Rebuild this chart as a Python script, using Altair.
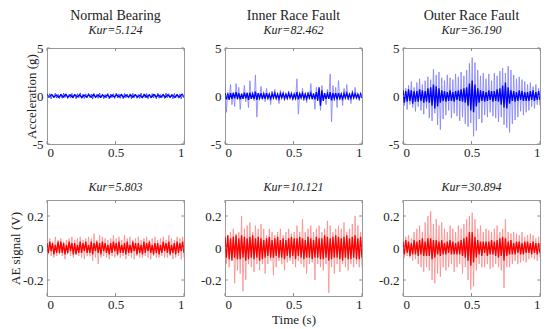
import altair as alt
import numpy as np
import pandas as pd

x_ticks = [0, 0.5, 1]
acc_ticks = [-5, 0, 5]
ae_ticks = [-0.2, 0, 0.2]
top_titles = ["Normal Bearing", "Inner Race Fault", "Outer Race Fault"]
kur_acc = ["Kur=5.124", "Kur=82.462", "Kur=36.190"]
kur_ae = ["Kur=5.803", "Kur=10.121", "Kur=30.894"]

# ---- vibration (acceleration, g) ----
nb_acc_light = [0.22,-0.18,0.25,-0.3,0.15,-0.2,0.28,-0.22,0.18,-0.26,
                0.2,-0.24,0.3,-0.16,0.22,-0.28,0.18,-0.2,0.26,-0.22,
                0.16,-0.3,0.24,-0.18,0.32,-0.24,0.2,-0.26,0.22,-0.2,
                0.28,-0.16,0.2,-0.32,0.26,-0.22,0.18,-0.24,0.3,-0.2,
                0.22,-0.28,0.16,-0.22,0.26,-0.3,0.2,-0.18,0.24,-0.26,
                0.3,-0.2,0.22,-0.24,0.18,-0.28,0.26,-0.2,0.2,-0.22,
                0.24,-0.3,0.28,-0.18,0.2,-0.24,0.16,-0.26,0.3,-0.22,
                0.22,-0.2,0.26,-0.28,0.18,-0.22,0.24,-0.2,0.2,-0.3,
                0.28,-0.24,0.16,-0.2,0.22,-0.26,0.3,-0.18,0.24,-0.22,
                0.2,-0.28,0.26,-0.2,0.18,-0.24,0.22,-0.3,0.24,-0.2]
nb_acc_core = [0.12,-0.1,0.14,-0.12,0.1,-0.14,0.13,-0.11,0.15,-0.12,
               0.11,-0.13,0.14,-0.1,0.12,-0.15,0.1,-0.12,0.13,-0.14,
               0.15,-0.11,0.12,-0.13,0.1,-0.12,0.14,-0.15,0.11,-0.1,
               0.13,-0.12,0.15,-0.14,0.12,-0.1,0.11,-0.13,0.14,-0.12,
               0.1,-0.15,0.13,-0.11,0.12,-0.14,0.15,-0.1,0.11,-0.12,
               0.14,-0.13,0.12,-0.11,0.1,-0.14,0.13,-0.12,0.15,-0.1]
ir_acc_light = [1.5,-1.7,0.4,-0.3,1.2,-0.9,0.3,-1.1,1.3,-0.4,
                0.9,-1.4,0.2,-0.3,1.1,-0.6,0.4,-1.2,1.6,-0.3,
                0.2,-0.5,2.2,-2.2,0.3,-0.2,1.0,-0.4,0.3,-0.6,
                0.8,-0.3,0.2,-0.9,0.5,-0.2,0.7,-0.3,0.2,-0.8,
                0.6,-0.2,0.3,-0.5,0.2,-0.3,0.5,-0.2,0.3,-0.4,
                0.2,-0.3,1.8,-1.9,0.3,-0.2,0.8,-0.5,0.3,-0.7,
                0.4,-0.3,1.3,-0.4,0.3,-1.4,0.9,-0.3,0.5,-1.5,
                1.1,-0.4,0.3,-0.9,0.7,-0.3,2.3,-2.7,1.1,-0.5,
                0.9,-1.2,1.6,-0.4,0.3,-1.0,0.8,-0.3,1.2,-0.4,
                0.3,-0.8,0.6,-0.2,0.9,-0.3,0.2,-0.5,0.4,-0.2]
ir_acc_core = [0.3,-0.35,0.25,-0.4,0.3,-0.3,0.35,-0.25,0.4,-0.3,
               0.3,-0.35,0.25,-0.3,0.35,-0.25,0.3,-0.4,0.35,-0.3,
               0.25,-0.3,0.45,-0.4,0.3,-0.25,0.3,-0.3,0.25,-0.3,
               0.3,-0.25,0.2,-0.3,0.25,-0.2,0.3,-0.25,0.2,-0.3,
               0.25,-0.2,0.3,-0.25,0.2,-0.25,0.3,-0.2,0.25,-0.3,
               0.2,-0.25,0.4,-0.35,0.25,-0.2,0.3,-0.25,0.2,-0.3,
               0.25,-0.2,0.3,-0.3,0.25,-0.35,0.4,-0.5,0.9,-1.0,
               0.6,-0.5,0.3,-0.3,0.25,-0.3,0.4,-0.45,0.3,-0.25,
               0.3,-0.35,0.3,-0.25,0.2,-0.3,0.25,-0.2,0.3,-0.25,
               0.2,-0.25,0.3,-0.2,0.25,-0.2,0.2,-0.25,0.2,-0.2]
or_acc_light = [1.3,-1.0,0.8,-1.4,1.1,-0.9,1.5,-1.2,0.9,-1.6,
                1.4,-1.1,1.8,-1.5,1.2,-1.9,1.6,-1.3,2.0,-2.3,
                1.7,-2.6,2.8,-1.8,2.2,-3.0,2.5,-3.5,1.9,-2.4,
                1.6,-2.0,2.2,-1.5,1.9,-2.3,1.7,-1.8,2.3,-2.1,
                2.0,-2.6,2.5,-2.2,2.1,-2.9,2.7,-3.2,3.4,-2.8,
                4.0,-4.2,3.5,-3.6,2.7,-2.4,2.1,-2.8,2.4,-2.0,
                1.8,-2.2,2.3,-1.7,1.6,-2.1,2.4,-2.3,2.1,-2.7,
                2.6,-2.2,2.9,-3.0,2.4,-3.3,3.1,-3.8,2.7,-2.9,
                2.2,-2.5,1.8,-2.2,2.0,-1.6,1.7,-2.0,1.5,-1.7,
                1.2,-1.5,1.4,-1.1,1.0,-1.3,1.2,-0.9,0.8,-1.0]
or_acc_core = [0.6,-0.7,0.5,-0.6,0.7,-0.5,0.6,-0.8,0.5,-0.6,
               0.5,-0.6,0.7,-0.5,0.6,-0.7,0.5,-0.6,0.8,-0.7,
               0.9,-1.0,1.2,-1.3,1.0,-1.1,0.8,-0.7,0.6,-0.5,
               0.5,-0.6,0.4,-0.5,0.6,-0.5,0.4,-0.6,0.5,-0.4,
               0.6,-0.5,0.7,-0.6,0.8,-0.7,0.9,-1.0,1.3,-1.5,
               1.6,-1.7,1.2,-1.1,0.8,-0.7,0.6,-0.5,0.5,-0.6,
               0.4,-0.5,0.6,-0.4,0.5,-0.6,0.5,-0.5,0.7,-0.6,
               0.8,-0.9,1.1,-1.2,1.4,-1.3,0.9,-0.8,0.6,-0.5,
               0.5,-0.6,0.4,-0.5,0.6,-0.4,0.5,-0.5,0.4,-0.5,
               0.4,-0.5,0.5,-0.4,0.6,-0.5,0.4,-0.4,0.5,-0.4]

# ---- acoustic emission (V) ----
nb_ae_light = [0.05,-0.04,0.06,-0.05,0.04,-0.06,0.07,-0.05,0.05,-0.04,
               0.06,-0.05,0.04,-0.07,0.05,-0.04,0.06,-0.05,0.07,-0.06,
               0.05,-0.04,0.06,-0.05,0.07,-0.06,0.05,-0.07,0.06,-0.05,
               0.07,-0.05,0.06,-0.08,0.09,-0.06,0.05,-0.1,0.08,-0.06,
               0.07,-0.05,0.06,-0.06,0.05,-0.07,0.06,-0.05,0.08,-0.06,
               0.06,-0.05,0.07,-0.06,0.05,-0.05,0.08,-0.07,0.06,-0.05,
               0.07,-0.06,0.05,-0.07,0.06,-0.05,0.07,-0.06,0.05,-0.06,
               0.06,-0.05,0.07,-0.06,0.05,-0.07,0.06,-0.05,0.07,-0.06,
               0.05,-0.06,0.06,-0.05,0.07,-0.06,0.05,-0.06,0.08,-0.05,
               0.06,-0.07,0.05,-0.06,0.07,-0.05,0.06,-0.07,0.07,-0.06]
nb_ae_core = [0.03,-0.03,0.04,-0.02,0.03,-0.04,0.02,-0.03,0.04,-0.03,
              0.04,-0.03,0.03,-0.04,0.02,-0.03,0.04,-0.02,0.03,-0.04,
              0.03,-0.04,0.02,-0.03,0.04,-0.03,0.03,-0.02,0.04,-0.03,
              0.02,-0.03,0.04,-0.04,0.03,-0.02,0.04,-0.03,0.03,-0.04,
              0.04,-0.02,0.03,-0.03,0.02,-0.04,0.03,-0.03,0.04,-0.02,
              0.03,-0.04,0.04,-0.03,0.02,-0.03,0.03,-0.04,0.04,-0.03,
              0.02,-0.03,0.04,-0.02,0.03,-0.04,0.03,-0.03,0.02,-0.04,
              0.04,-0.03,0.03,-0.02,0.04,-0.03,0.02,-0.04,0.03,-0.03,
              0.03,-0.04,0.02,-0.03,0.04,-0.02,0.03,-0.03,0.04,-0.04,
              0.02,-0.03,0.03,-0.04,0.04,-0.03,0.03,-0.02,0.04,-0.03]
ir_ae_light = [0.16,-0.1,0.08,-0.12,0.1,-0.06,0.12,-0.22,0.09,-0.14,
               0.1,-0.16,0.2,-0.27,0.12,-0.2,0.14,-0.1,0.16,-0.12,
               0.1,-0.15,0.14,-0.1,0.12,-0.14,0.15,-0.1,0.12,-0.16,
               0.08,-0.1,0.12,-0.08,0.1,-0.17,0.08,-0.12,0.1,-0.08,
               0.12,-0.1,0.08,-0.14,0.1,-0.09,0.12,-0.08,0.09,-0.1,
               0.1,-0.12,0.14,-0.08,0.1,-0.1,0.18,-0.12,0.1,-0.16,
               0.12,-0.1,0.14,-0.09,0.1,-0.2,0.12,-0.1,0.14,-0.12,
               0.1,-0.14,0.12,-0.1,0.17,-0.28,0.14,-0.12,0.1,-0.16,
               0.12,-0.1,0.14,-0.15,0.12,-0.1,0.16,-0.12,0.1,-0.14,
               0.12,-0.1,0.15,-0.12,0.2,-0.1,0.14,-0.12,0.1,-0.12]
ir_ae_core = [0.07,-0.06,0.08,-0.07,0.06,-0.08,0.07,-0.06,0.08,-0.07,
              0.06,-0.07,0.08,-0.06,0.07,-0.08,0.06,-0.07,0.07,-0.06,
              0.08,-0.07,0.06,-0.06,0.07,-0.08,0.06,-0.07,0.05,-0.06,
              0.06,-0.05,0.07,-0.06,0.05,-0.06,0.06,-0.05,0.07,-0.06,
              0.05,-0.06,0.06,-0.07,0.05,-0.05,0.06,-0.06,0.07,-0.05,
              0.06,-0.07,0.06,-0.05,0.07,-0.06,0.06,-0.07,0.05,-0.06,
              0.07,-0.06,0.06,-0.07,0.05,-0.06,0.07,-0.06,0.06,-0.07,
              0.06,-0.07,0.08,-0.06,0.07,-0.08,0.06,-0.07,0.07,-0.06,
              0.08,-0.06,0.07,-0.07,0.06,-0.08,0.07,-0.06,0.08,-0.07,
              0.06,-0.07,0.07,-0.06,0.08,-0.07,0.06,-0.07,0.07,-0.06]
or_ae_light = [0.05,-0.06,0.07,-0.05,0.08,-0.06,0.06,-0.08,0.1,-0.07,
               0.12,-0.1,0.14,-0.12,0.1,-0.15,0.16,-0.12,0.2,-0.14,
               0.23,-0.2,0.15,-0.22,0.18,-0.16,0.14,-0.18,0.16,-0.12,
               0.12,-0.14,0.1,-0.12,0.14,-0.1,0.12,-0.15,0.1,-0.12,
               0.14,-0.1,0.12,-0.16,0.15,-0.12,0.18,-0.2,0.2,-0.26,
               0.22,-0.24,0.18,-0.14,0.12,-0.1,0.14,-0.12,0.1,-0.12,
               0.12,-0.1,0.11,-0.13,0.1,-0.12,0.12,-0.1,0.14,-0.12,
               0.1,-0.14,0.12,-0.25,0.18,-0.12,0.1,-0.12,0.09,-0.1,
               0.1,-0.08,0.09,-0.1,0.08,-0.09,0.1,-0.08,0.07,-0.09,
               0.08,-0.07,0.09,-0.06,0.08,-0.07,0.06,-0.08,0.07,-0.06]
or_ae_core = [0.04,-0.04,0.05,-0.03,0.04,-0.05,0.03,-0.04,0.05,-0.04,
              0.04,-0.05,0.05,-0.04,0.06,-0.05,0.04,-0.05,0.06,-0.05,
              0.06,-0.07,0.05,-0.06,0.05,-0.04,0.04,-0.05,0.05,-0.04,
              0.03,-0.04,0.04,-0.03,0.05,-0.04,0.04,-0.04,0.03,-0.04,
              0.04,-0.04,0.05,-0.05,0.06,-0.06,0.07,-0.08,0.1,-0.11,
              0.1,-0.09,0.07,-0.06,0.05,-0.04,0.04,-0.05,0.04,-0.03,
              0.04,-0.05,0.04,-0.04,0.05,-0.04,0.04,-0.05,0.05,-0.06,
              0.06,-0.05,0.07,-0.08,0.06,-0.05,0.04,-0.04,0.05,-0.04,
              0.03,-0.04,0.04,-0.03,0.04,-0.04,0.03,-0.04,0.04,-0.03,
              0.04,-0.03,0.03,-0.04,0.04,-0.03,0.03,-0.04,0.03,-0.03]

FONT = "Liberation Serif"
W, H = 137, 96
LABEL = "datum.value + ''"
TICK = "#888"


def frame(light, core):
    rows = []
    for name, vals in (("light", light), ("core", core)):
        t = np.linspace(0, 1, len(vals))
        rows.append(pd.DataFrame({"t": t, "v": vals, "layer": name}))
    return pd.concat(rows, ignore_index=True)


def panel(light, core, light_col, core_col, domain, yticks, title,
          ytitle=None, ytitle_x=None, xtitle=None):
    df = frame(light, core)
    yaxis_kw = dict(values=yticks, labelPadding=4, labelExpr=LABEL,
                    grid=False, domain=False, ticks=False,
                    labelFont=FONT, labelFontSize=13, labelColor="#222")
    if ytitle:
        yaxis_kw.update(title=ytitle, titleX=ytitle_x, titleFont=FONT,
                        titleFontSize=13, titleFontWeight="normal",
                        titleColor="#222")
    else:
        yaxis_kw.update(title=None)
    xaxis_kw = dict(values=x_ticks, labelPadding=2, labelExpr=LABEL,
                    grid=False, domain=False, ticks=False,
                    labelFont=FONT, labelFontSize=13, labelColor="#222")
    if xtitle:
        xaxis_kw.update(title=xtitle, titlePadding=2, titleFont=FONT,
                        titleFontSize=13, titleFontWeight="normal",
                        titleColor="#222")
    else:
        xaxis_kw.update(title=None)
    xs = alt.Scale(domain=[0, 1], nice=False)
    ys = alt.Scale(domain=domain, nice=False, zero=False)
    x = alt.X("t:Q", scale=xs, axis=alt.Axis(**xaxis_kw))
    y = alt.Y("v:Q", scale=ys, axis=alt.Axis(**yaxis_kw))
    base = alt.Chart(df)
    lt = base.transform_filter(alt.datum.layer == "light").mark_line(
        color=light_col, strokeWidth=0.8, clip=True).encode(x=x, y=y, order="t:Q")
    cr = base.transform_filter(alt.datum.layer == "core").mark_line(
        color=core_col, strokeWidth=1.3, clip=True).encode(x=x, y=y, order="t:Q")
    # small inward ticks on the frame (MATLAB style)
    span = domain[1] - domain[0]
    xt = pd.DataFrame({"t": x_ticks})
    yt = pd.DataFrame({"v": yticks})
    xtick_b = alt.Chart(xt).mark_rule(color=TICK, strokeWidth=1).encode(
        x=alt.X("t:Q", scale=xs), y=alt.datum(domain[0], scale=ys),
        y2=alt.datum(domain[0] + span * 0.03))
    xtick_t = alt.Chart(xt).mark_rule(color=TICK, strokeWidth=1).encode(
        x=alt.X("t:Q", scale=xs), y=alt.datum(domain[1], scale=ys),
        y2=alt.datum(domain[1] - span * 0.03))
    ytick_l = alt.Chart(yt).mark_rule(color=TICK, strokeWidth=1).encode(
        y=alt.Y("v:Q", scale=ys), x=alt.datum(0, scale=xs), x2=alt.datum(0.02))
    ytick_r = alt.Chart(yt).mark_rule(color=TICK, strokeWidth=1).encode(
        y=alt.Y("v:Q", scale=ys), x=alt.datum(1, scale=xs), x2=alt.datum(0.98))
    return alt.layer(lt, cr, xtick_b, xtick_t, ytick_l, ytick_r).properties(
        width=W, height=H, title=title)


def top_title(i):
    return alt.TitleParams(text=top_titles[i], subtitle=kur_acc[i], font=FONT,
                           fontSize=14, fontWeight="normal", color="#222",
                           subtitleFont=FONT, subtitleFontSize=12,
                           subtitleFontStyle="italic", subtitleColor="#222",
                           subtitlePadding=2, offset=6, anchor="middle")


def bot_title(i):
    return alt.TitleParams(text=kur_ae[i], font=FONT, fontSize=12,
                           fontStyle="italic", fontWeight="normal",
                           color="#222", offset=6, anchor="middle")


LB, DB = "#8080ff", "#0000ff"
LR, DR = "#ff8c8c", "#ff0000"

panels = [
    panel(nb_acc_light, nb_acc_core, "#3030ff", DB, [-5, 5], acc_ticks,
          top_title(0), ytitle="Acceleration (g)", ytitle_x=-9),
    panel(ir_acc_light, ir_acc_core, LB, DB, [-5, 5], acc_ticks, top_title(1)),
    panel(or_acc_light, or_acc_core, LB, DB, [-5, 5], acc_ticks, top_title(2)),
    panel(nb_ae_light, nb_ae_core, LR, DR, [-0.3, 0.3], ae_ticks,
          bot_title(0), ytitle="AE signal (V)", ytitle_x=-25),
    panel(ir_ae_light, ir_ae_core, LR, DR, [-0.3, 0.3], ae_ticks,
          bot_title(1), xtitle="Time (s)"),
    panel(or_ae_light, or_ae_core, LR, DR, [-0.3, 0.3], ae_ticks, bot_title(2)),
]

chart = alt.concat(*panels, columns=3,
                   spacing=alt.RowColnumber(row=56, column=41),
                   bounds="flush").properties(
    padding={"left": 0, "top": 0, "right": 0, "bottom": 0},
    background="white"
).configure_view(stroke="#999", strokeWidth=1)

chart.save("out.html", embed_options={"renderer": "svg", "actions": False})
